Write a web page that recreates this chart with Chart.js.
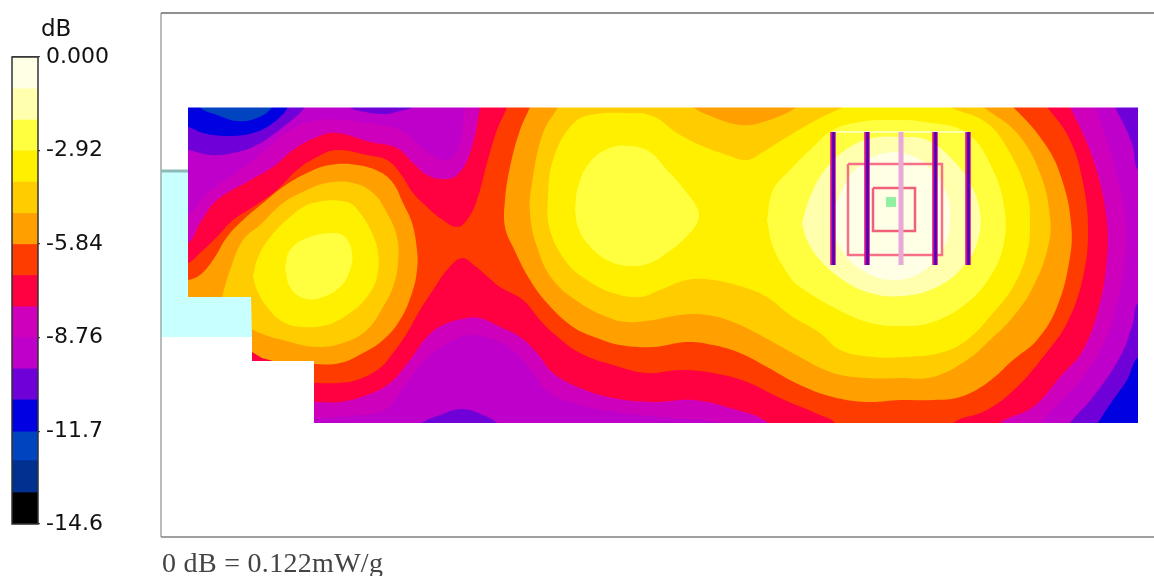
<!DOCTYPE html>
<html>
<head>
<meta charset="utf-8">
<script src="https://cdn.jsdelivr.net/npm/chart.js@4/dist/chart.umd.min.js"></script>
<style>
html, body { margin: 0; padding: 0; background: #fff; width: 1154px; height: 576px; overflow: hidden; }
canvas { position: absolute; left: 0; top: 0; filter: blur(0.5px); }
#unit { position: absolute; left: 41px; top: 15px; font: 23px "DejaVu Sans", sans-serif; color: #111; filter: blur(0.4px); }
#foot { position: absolute; left: 162px; top: 547px; font: 28px "Liberation Serif", serif; letter-spacing: 0.3px; color: #444; white-space: nowrap; filter: blur(0.4px); }
</style>
</head>
<body>
<canvas id="scan" width="1154" height="576"></canvas>
<canvas id="scale" width="130" height="576"></canvas>
<div id="unit">dB</div>
<div id="foot">0 dB = 0.122mW/g</div>
<script>
// colour scale
const bandEdges = [0, -0.973, -1.95, -2.92, -3.89, -4.87, -5.84, -6.81, -7.79, -8.76, -9.73, -10.7, -11.7, -12.6, -13.6, -14.6];
const bandColors = ['#FFFFE6', '#FFFFAE', '#FFFF40', '#FFF000', '#FFCC00', '#FFA000', '#FF3C00', '#FF0040',
    '#CE00BC', '#BE00CA', '#7000D8', '#0000E0', '#0044C0', '#003090', '#000000'];
const tickValues = [0, -2.92, -5.84, -8.76, -11.7, -14.6];
const tickLabels = ['0.000', '-2.92', '-5.84', '-8.76', '-11.7', '-14.6'];

// low patches of the scan
const topLens = [[345,95],[350,107],[365,112],[385,114],[400,111],[412,107],[415,95]];
const bottomLens = [[415,435],[422,423],[440,415],[462,409],[483,415],[497,423],[505,435]];
const cornerViolet = [[170,90],[170,150],[188,150],[210,155],[233,153],[257,145],[283,127],[305,107],[310,90]];
const cornerBlue = [[170,90],[170,127],[188,127],[203,133],[227,136],[253,133],[273,123],[288,107],[292,90]];
const cornerDark = [[196,90],[200,107],[217,115],[237,121],[257,118],[272,107],[276,90]];
const rightViolet = [[1108,90],[1115,107],[1125,127],[1133,147],[1138,170],[1160,185],[1160,90]];
const lowerViolet = [[1160,295],[1138,303],[1133,323],[1120,357],[1093,397],[1070,423],[1060,440],[1160,440]];
const lowerBlue = [[1160,345],[1138,357],[1127,380],[1113,400],[1098,423],[1090,440],[1160,440]];

// contours, each one holds the area above its level
const level8 = [[170,215],[188,215],[205,195],[240,170],[265,150],[290,130],[320,120],[360,122],[400,130],[425,150],[445,160],[458,150],[465,107],[467,90],
    [1090,90],[1095,107],[1108,145],[1118,180],[1125,220],[1125,255],[1118,300],[1105,340],[1085,375],[1062,400],[1040,423],[1030,440],
    [760,440],[720,423],[660,417],[615,412],[580,405],[548,392],[532,372],[515,352],[495,340],[470,335],[445,345],[425,360],[405,385],[385,410],[345,416],[315,418],[170,418]];
const level7 = [[170,243],[188,243],[200,223],[217,200],[247,182],[273,167],[293,150],[317,137],[337,133],[370,142],[397,148],[413,163],[427,175],[443,179],[457,175],[470,153],[480,107],[482,90],
    [1062,90],[1070,107],[1087,143],[1100,183],[1107,223],[1107,257],[1100,303],[1083,350],[1060,377],[1033,407],[1000,423],[990,440],
    [775,440],[767,422],[730,408],[693,400],[653,402],[613,398],[580,388],[553,373],[537,353],[520,337],[500,327],[480,318],[467,318],[443,325],[427,337],[410,360],[390,383],[367,395],[340,402],[315,402],[170,402]];
const level6 = [[170,263],[188,263],[200,253],[217,237],[233,220],[253,207],[277,190],[297,170],[317,157],[337,150],[367,155],[387,160],[400,173],[413,193],[427,207],[440,218],[457,227],[467,220],[477,200],[487,163],[497,130],[507,107],[512,90],
    [1030,90],[1047,107],[1070,140],[1083,183],[1088,230],[1083,277],[1067,323],[1043,357],[1017,387],[987,410],[953,423],[945,440],
    [840,440],[835,423],[820,415],[780,398],[747,382],[713,373],[680,370],[647,373],[613,365],[580,353],[553,333],[540,320],[523,300],[500,287],[488,277],[475,266],[462,258],[447,270],[433,290],[420,310],[407,333],[393,353],[380,368],[357,380],[337,383],[315,383],[170,383]];
const level5Left = [[170,280],[188,280],[200,275],[213,260],[227,237],[243,220],[263,203],[283,187],[307,173],[330,165],[357,165],[380,172],[393,183],[403,203],[412,223],[417,250],[417,270],[412,293],[400,320],[383,340],[363,353],[340,363],[313,364],[273,361],[170,361]];
const level5Main = [[536,90],[530,107],[520,130],[510,167],[505,200],[505,227],[513,247],[530,280],[547,303],[573,327],[597,338],[620,345],[653,347],[687,342],[713,345],[740,353],[767,367],[800,385],[833,397],[867,402],[900,400],[933,400],[960,397],[987,383],[1013,360],[1037,340],[1057,307],[1070,257],[1071,223],[1063,183],[1047,147],[1013,107],[990,90]];
const level4Left = [[222,297],[230,270],[243,240],[260,225],[283,203],[307,190],[327,183],[353,183],[373,193],[387,213],[397,237],[398,263],[393,287],[383,307],[367,330],[343,343],[317,347],[290,342],[253,330],[222,310]];
const level4Main = [[566,90],[558,107],[543,133],[532,183],[530,213],[537,247],[553,280],[580,303],[607,317],[627,322],[653,320],[680,315],[707,315],[733,322],[760,335],[800,357],[833,373],[867,378],[900,378],[933,377],[967,360],[990,340],[1013,317],[1033,287],[1048,247],[1050,217],[1040,173],[1017,133],[983,107],[960,90]];
const topDent = [[685,95],[693,107],[713,117],[740,125],[763,122],[797,107],[805,95]];
const level3Left = [[253,277],[257,260],[268,240],[290,217],[313,203],[347,202],[360,213],[372,233],[378,253],[377,277],[367,297],[350,313],[327,325],[303,327],[283,322],[267,307],[257,290],[253,277]];
const level3Main = [[643,113],[590,115],[570,127],[553,160],[548,197],[550,230],[567,263],[587,280],[613,293],[640,297],[660,290],[687,280],[713,280],[743,287],[767,297],[790,315],[820,333],[840,350],[873,357],[903,357],[940,353],[967,340],[993,313],[1013,287],[1027,253],[1030,223],[1027,193],[1010,153],[987,123],[950,107],[930,95],[860,95],[843,107],[820,118],[787,137],[763,152],[747,160],[727,155],[700,145],[677,133],[657,118],[643,113]];
const level2Left = [[285,267],[290,250],[307,238],[333,233],[345,237],[352,253],[350,270],[340,287],[320,298],[303,298],[290,287],[285,267]];
const level2Mid = [[575,210],[578,187],[590,162],[610,148],[630,146],[650,152],[667,170],[683,188],[698,210],[697,223],[683,240],[667,253],[650,263],[630,266],[607,260],[587,243],[578,227],[575,210]];
const level2Right = [[767,220],[773,190],[790,170],[813,147],[833,130],[860,122],[890,120],[925,122],[967,133],[993,170],[1005,213],[1003,247],[990,277],[967,303],[933,322],[900,326],[867,322],[833,307],[800,287],[790,277],[773,247],[767,220]];
const level1 = [[802,223],[810,197],[827,167],[850,147],[873,138],[900,137],[927,140],[950,157],[970,183],[980,213],[977,243],[963,267],[937,287],[903,296],[870,293],[843,280],[820,260],[807,240],[802,223]];
const level0 = [[830,222],[842,190],[860,165],[885,153],[910,155],[932,170],[947,195],[950,220],[945,245],[925,270],[895,280],[865,272],[843,252],[830,222]];
const stepPatch = [[252,352],[262,358],[273,361],[252,363]];

// outside of the measured area
const scanArea = [[170,90],[1160,90],[1160,440],[170,440]];
const blankTop = [[161,14],[1154,14],[1154,107.5],[188,107.5],[188,171],[161,171]];
const blankRight = [[1138,100],[1165,100],[1165,430],[1138,430]];
const blankBottom = [[161,337],[252,337],[252,361],[314,361],[314,423],[1154,423],[1154,536],[161,536]];
const phantom = [[161,171],[188,171],[188,297],[251,297],[252,337],[161,337]];

// probe overlay
const barX = [833, 867, 935, 968];
const paleBarX = [901];
const barTop = 132;
const barBottom = 265;
const outerRing = [[848,164],[942,164],[942,255],[848,255],[848,164]];
const innerRing = [[873,188],[915,188],[915,231],[873,231],[873,188]];
const peak = [[891,202]];

// frame
const frameLeft = [[161,13],[161,537]];
const frameTop = [[161,13],[1154,13]];
const frameBottom = [[161,537],[1154,537]];
const phantomEdge = [[161,171],[188,171]];

function toPoints(list) {
    return list.map(p => ({x: p[0], y: p[1]}));
}
function area(list, color, tension) {
    return {
        data: toPoints(list), showLine: true, fill: 'shape', backgroundColor: color,
        borderWidth: 0, pointRadius: 0, tension: tension === undefined ? 0.4 : tension
    };
}
function line(list, color, width) {
    return {
        data: toPoints(list), showLine: true, fill: false, borderColor: color,
        borderWidth: width, pointRadius: 0, tension: 0
    };
}

// bottom layer first, reversed below because Chart.js paints the first dataset last
const layers = [
    area(scanArea, bandColors[9], 0),
    area(topLens, bandColors[10]),
    area(bottomLens, bandColors[10]),
    area(cornerViolet, bandColors[10]),
    area(cornerBlue, bandColors[11]),
    area(cornerDark, bandColors[12]),
    area(rightViolet, bandColors[10]),
    area(lowerViolet, bandColors[10]),
    area(lowerBlue, bandColors[11]),
    area(level8, bandColors[8]),
    area(level7, bandColors[7]),
    area(level6, bandColors[6]),
    area(level5Left, bandColors[5]),
    area(level5Main, bandColors[5]),
    area(level4Left, bandColors[4]),
    area(level4Main, bandColors[4]),
    area(topDent, bandColors[5]),
    area(level3Left, bandColors[3]),
    area(level3Main, bandColors[3]),
    area(level2Left, bandColors[2]),
    area(level2Mid, bandColors[2]),
    area(level2Right, bandColors[2]),
    area(level1, bandColors[1]),
    area(level0, bandColors[0]),
    area(stepPatch, bandColors[7], 0),
    area(blankTop, '#ffffff', 0),
    area(blankRight, '#ffffff', 0),
    area(blankBottom, '#ffffff', 0),
    area(phantom, '#C8FFFF', 0),
    line(outerRing, '#F87088', 2.5),
    line(innerRing, '#F06078', 2.5),
    line([[barX[0], barTop], [barX[3], barTop]], '#FFFFD0', 1.5)
];
barX.forEach(x => {
    layers.push(line([[x, barTop], [x, barBottom]], '#D0108C', 5.5));
    layers.push(line([[x + 0.5, barTop], [x + 0.5, barBottom]], '#4A00B8', 2.5));
});
paleBarX.forEach(x => {
    layers.push(line([[x, barTop], [x, barBottom]], '#E8A8D8', 5));
});
layers.push({data: toPoints(peak), pointStyle: 'rect', pointRadius: 7, backgroundColor: '#90F0A0', borderWidth: 0});
layers.push(line(frameLeft, '#A0A8A8', 1.5));
layers.push(line(frameTop, '#909090', 2));
layers.push(line(frameBottom, '#808080', 1.5));
layers.push(line(phantomEdge, '#8FB8B8', 3));

new Chart(document.getElementById('scan'), {
    type: 'scatter',
    data: {datasets: layers.reverse()},
    options: {
        responsive: false,
        animation: false,
        layout: {padding: 0, autoPadding: false},
        plugins: {legend: {display: false}, tooltip: {enabled: false}},
        scales: {
            x: {type: 'linear', min: 0, max: 1154, display: false},
            y: {type: 'linear', min: 0, max: 576, reverse: true, display: false}
        }
    }
});

const scaleDatasets = bandColors.map((c, i) => ({
    data: [[bandEdges[i + 1], bandEdges[i]]],
    backgroundColor: c,
    borderWidth: 0,
    barPercentage: 1,
    categoryPercentage: 1,
    grouped: false
}));

const scaleFrame = {
    id: 'scaleFrame',
    afterDraw(chart) {
        const {ctx, chartArea: a} = chart;
        ctx.save();
        ctx.strokeStyle = '#333';
        ctx.lineWidth = 1.5;
        ctx.strokeRect(a.left, a.top, a.right - a.left, a.bottom - a.top);
        ctx.restore();
    }
};

new Chart(document.getElementById('scale'), {
    type: 'bar',
    data: {labels: ['dB'], datasets: scaleDatasets},
    plugins: [scaleFrame],
    options: {
        responsive: false,
        animation: false,
        layout: {padding: {left: 12, top: 57, bottom: 52, right: 0}, autoPadding: false},
        plugins: {legend: {display: false}, tooltip: {enabled: false}},
        scales: {
            x: {display: false},
            y: {
                position: 'right',
                min: -14.6,
                max: 0,
                afterBuildTicks: s => { s.ticks = tickValues.map(v => ({value: v})); },
                afterFit: s => { s.width = 92; },
                grid: {color: 'rgba(30,30,30,0.8)', lineWidth: 1.2, drawOnChartArea: true, tickLength: 2},
                border: {display: false},
                ticks: {
                    padding: 6,
                    crossAlign: 'near',
                    autoSkip: false,
                    color: '#111',
                    font: {family: '"DejaVu Sans", sans-serif', size: 22},
                    callback: v => tickLabels[tickValues.indexOf(v)]
                }
            }
        }
    }
});
</script>
</body>
</html>
